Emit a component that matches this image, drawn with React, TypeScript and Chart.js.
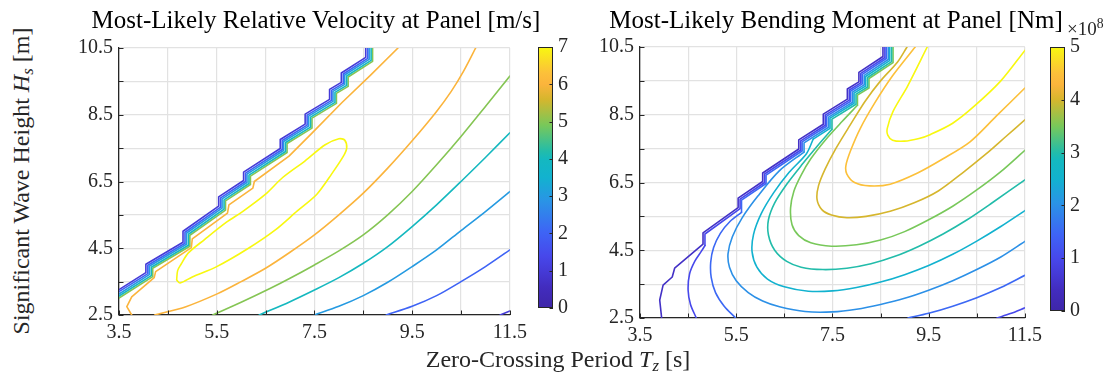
import React, { useEffect, useRef } from 'react';
import { Chart, registerables } from 'chart.js';

Chart.register(...registerables);

type Pt = [number, number];
type Line = { level: number; pts: Pt[]; smooth: boolean };

const FONT = "'Liberation Serif', 'Times New Roman', Times, serif";
const INK = '#262626';

// ---------- axes / ticks ----------
const TZ_TICKS = [3.5, 4.5, 5.5, 6.5, 7.5, 8.5, 9.5, 10.5, 11.5];
const TZ_LABELLED = [3.5, 5.5, 7.5, 9.5, 11.5];
const HS_TICKS = [2.5, 3.5, 4.5, 5.5, 6.5, 7.5, 8.5, 9.5, 10.5];
const HS_LABELLED = [2.5, 4.5, 6.5, 8.5, 10.5];
const VEL_CBAR_TICKS = [0, 1, 2, 3, 4, 5, 6, 7];
const MOM_CBAR_TICKS = [0, 1, 2, 3, 4, 5];
const VEL_CLIM: [number, number] = [0, 7];
const MOM_CLIM: [number, number] = [0, 5];

// parula-like colormap stops [t, r, g, b]
const PARULA_STOPS: [number, number, number, number][] = [
  [0.0, 62, 38, 168], [0.08, 66, 44, 190], [0.14, 69, 58, 214], [0.2, 71, 72, 235],
  [0.29, 62, 100, 245], [0.41, 42, 148, 230], [0.5, 18, 178, 207], [0.57, 20, 184, 192],
  [0.6, 34, 188, 170], [0.7, 120, 200, 90], [0.8, 214, 182, 45], [0.857, 251, 180, 60],
  [0.9, 252, 192, 58], [1.0, 248, 248, 16],
];

// ---------- Relative velocity contours [m/s]  (Tz [s], Hs [m]) ----------
const VEL_1_LIMIT: Pt[] = [[3.5,3.26],[4.05,3.77],[4.05,4.02],[4.81,4.68],[4.81,5.01],[5.54,5.76],[5.54,6.04],[6.05,6.53],[6.05,6.78],[6.8,7.49],[6.8,7.76],[7.31,8.22],[7.31,8.52],[7.81,8.96],[7.81,9.26],[8.05,9.47],[8.05,9.75],[8.55,10.22],[8.55,10.5]];
const VEL_1_FIELD: Pt[] = [[11.3,2.5],[11.5,2.62]];
const VEL_2_LIMIT: Pt[] = [[3.5,3.2],[4.09,3.74],[4.09,3.99],[4.85,4.65],[4.85,4.98],[5.58,5.73],[5.58,6.01],[6.09,6.5],[6.09,6.75],[6.84,7.46],[6.84,7.73],[7.35,8.19],[7.35,8.49],[7.85,8.93],[7.85,9.23],[8.09,9.44],[8.09,9.72],[8.59,10.19],[8.59,10.5]];
const VEL_2_FIELD: Pt[] = [[8.97,2.5],[9.5,2.76],[10.0,3.08],[10.5,3.5],[11.0,3.95],[11.5,4.45]];
const VEL_3_LIMIT: Pt[] = [[3.5,3.13],[4.12,3.71],[4.12,3.96],[4.88,4.62],[4.88,4.95],[5.61,5.7],[5.61,5.98],[6.12,6.47],[6.12,6.72],[6.87,7.43],[6.87,7.7],[7.38,8.16],[7.38,8.46],[7.88,8.9],[7.88,9.2],[8.12,9.41],[8.12,9.69],[8.62,10.16],[8.62,10.5]];
const VEL_3_FIELD: Pt[] = [[7.5,2.5],[8.0,2.76],[8.5,3.08],[9.0,3.48],[9.5,3.95],[10.0,4.45],[10.5,5.03],[11.0,5.6],[11.5,6.2]];
const VEL_4_LIMIT: Pt[] = [[3.5,3.07],[4.16,3.68],[4.16,3.93],[4.92,4.59],[4.92,4.92],[5.65,5.67],[5.65,5.95],[6.16,6.44],[6.16,6.69],[6.91,7.4],[6.91,7.67],[7.42,8.13],[7.42,8.43],[7.92,8.87],[7.92,9.17],[8.16,9.38],[8.16,9.66],[8.66,10.13],[8.66,10.5]];
const VEL_4_FIELD: Pt[] = [[6.37,2.5],[7.0,2.9],[7.5,3.25],[8.0,3.62],[8.5,4.05],[9.0,4.55],[9.5,5.15],[10.0,5.8],[10.5,6.5],[11.0,7.22],[11.5,7.96]];
const VEL_5_LIMIT: Pt[] = [[3.5,3.01],[4.19,3.65],[4.19,3.9],[4.95,4.56],[4.95,4.89],[5.68,5.64],[5.68,5.92],[6.19,6.41],[6.19,6.66],[6.94,7.37],[6.94,7.64],[7.45,8.1],[7.45,8.4],[7.95,8.84],[7.95,9.14],[8.19,9.35],[8.19,9.63],[8.69,10.1],[8.69,10.5]];
const VEL_5_FIELD: Pt[] = [[5.42,2.5],[6.0,2.88],[6.6,3.3],[7.0,3.6],[7.5,4.0],[8.0,4.42],[8.5,4.9],[9.0,5.5],[9.5,6.2],[10.0,7.0],[10.5,7.85],[11.0,8.75],[11.5,9.66]];
const VEL_6_LIMIT: Pt[] = [[3.76,2.5],[3.66,2.75],[3.76,3.04],[4.22,3.62],[4.25,3.8],[4.98,4.52],[5.0,4.78],[5.72,5.55],[5.75,5.8],[6.24,6.3],[6.27,6.5],[6.98,7.26],[7.45,7.95],[8.06,8.86],[8.66,9.7],[9.21,10.5]];
const VEL_6_FIELD: Pt[] = [[4.23,2.5],[4.87,2.75],[5.52,3.14],[6.0,3.5],[6.5,3.9],[7.0,4.38],[7.5,4.9],[8.0,5.5],[8.5,6.15],[9.0,6.9],[9.5,7.72],[10.0,8.6],[10.3,9.2],[10.55,9.8],[10.8,10.5]];
const VEL_7_LOOP: Pt[] = [[4.68,3.55],[4.7,3.83],[4.77,4.02],[4.92,4.36],[5.25,4.76],[5.7,5.28],[6.05,5.62],[6.5,6.12],[6.85,6.62],[7.31,7.12],[7.72,7.6],[8.0,7.78],[8.12,7.74],[8.16,7.5],[8.09,7.25],[7.85,6.72],[7.55,6.12],[7.15,5.62],[6.7,5.05],[6.15,4.5],[5.5,3.95],[5.0,3.64],[4.75,3.46],[4.68,3.55]];

// ---------- Bending moment contours [x1e8 Nm] ----------
const MOM_05_LIMIT: Pt[] = [[3.95,2.5],[3.91,3.03],[3.98,3.47],[4.17,3.71],[4.22,3.97],[4.81,4.68],[4.81,5.01],[5.54,5.76],[5.54,6.04],[6.05,6.53],[6.05,6.78],[6.8,7.49],[6.8,7.76],[7.31,8.22],[7.31,8.52],[7.81,8.96],[7.81,9.26],[8.05,9.47],[8.05,9.75],[8.55,10.22],[8.55,10.5]];
const MOM_10_LOW: Pt[] = [[4.67,2.5],[4.55,2.9],[4.5,3.32],[4.53,3.8],[4.64,4.18],[4.78,4.48],[4.85,4.64]];
const MOM_10_LIMIT: Pt[] = [[4.85,4.64],[4.85,4.98],[5.58,5.73],[5.58,6.01],[6.09,6.5],[6.09,6.75],[6.84,7.46],[6.84,7.73],[7.35,8.19],[7.35,8.49],[7.85,8.93],[7.85,9.23],[8.09,9.44],[8.09,9.72],[8.59,10.19],[8.59,10.5]];
const MOM_10_FIELD: Pt[] = [[10.92,2.5],[11.2,2.63],[11.5,2.8]];
const MOM_15_LOW: Pt[] = [[5.49,2.5],[5.25,2.85],[5.07,3.25],[4.98,3.7],[4.97,4.15],[5.03,4.58],[5.17,5.0],[5.37,5.35],[5.61,5.62]];
const MOM_15_LIMIT: Pt[] = [[5.61,5.62],[5.61,5.98],[6.12,6.47],[6.12,6.72],[6.87,7.43],[6.87,7.7],[7.38,8.16],[7.38,8.46],[7.88,8.9],[7.88,9.2],[8.12,9.41],[8.12,9.69],[8.62,10.16],[8.62,10.5]];
const MOM_15_FIELD: Pt[] = [[9.07,2.5],[9.5,2.64],[10.0,2.85],[10.5,3.1],[11.0,3.4],[11.5,3.76]];
const MOM_20_LIMIT: Pt[] = [[8.66,10.5],[8.66,10.13],[8.16,9.66],[8.16,9.38],[7.92,9.17],[7.92,8.87],[7.42,8.43],[7.42,8.13],[6.91,7.67],[6.91,7.4]];
const MOM_20_FIELD: Pt[] = [[6.91,7.4],[6.4,6.85],[5.95,6.1],[5.62,5.45],[5.42,4.9],[5.33,4.4],[5.36,4.0],[5.5,3.6],[5.75,3.25],[6.05,3.0],[6.4,2.83],[6.93,2.69],[7.5,2.68],[8.0,2.76],[8.5,2.9],[9.0,3.08],[9.5,3.32],[10.0,3.6],[10.5,3.93],[11.0,4.3],[11.5,4.76]];
const MOM_25_LIMIT: Pt[] = [[8.69,10.5],[8.69,10.1],[8.19,9.63],[8.19,9.35],[7.95,9.14],[7.95,8.84],[7.45,8.4],[7.45,8.1],[7.1,7.78]];
const MOM_25_FIELD: Pt[] = [[7.1,7.78],[6.96,7.35],[6.6,6.8],[6.28,6.2],[6.02,5.58],[5.86,4.97],[5.83,4.45],[5.93,4.0],[6.15,3.65],[6.5,3.42],[7.0,3.29],[7.5,3.3],[8.0,3.4],[8.5,3.56],[9.0,3.78],[9.5,4.05],[10.0,4.38],[10.5,4.77],[11.0,5.2],[11.5,5.67]];
const MOM_30_LIMIT: Pt[] = [[8.73,10.5],[8.73,10.07],[8.23,9.6],[8.23,9.32],[7.99,9.11],[7.99,8.81],[7.49,8.37],[7.49,8.07]];
const MOM_30_FIELD: Pt[] = [[7.49,8.07],[7.2,7.6],[6.88,7.05],[6.55,6.45],[6.3,5.9],[6.17,5.4],[6.17,4.95],[6.3,4.5],[6.55,4.17],[6.85,4.0],[7.3,3.93],[7.8,3.97],[8.3,4.1],[8.8,4.32],[9.3,4.62],[9.8,4.98],[10.3,5.4],[10.8,5.88],[11.5,6.58]];
const MOM_35_LIMIT: Pt[] = [[8.76,10.5],[8.76,10.04],[8.26,9.57],[8.26,9.29],[8.02,9.08],[8.02,8.78]];
const MOM_35_FIELD: Pt[] = [[8.02,8.78],[7.7,8.3],[7.35,7.75],[7.05,7.2],[6.85,6.72],[6.7,6.25],[6.63,5.75],[6.66,5.25],[6.8,4.93],[7.05,4.72],[7.48,4.62],[8.0,4.66],[8.5,4.8],[9.0,5.05],[9.5,5.4],[10.0,5.8],[10.5,6.28],[11.0,6.82],[11.5,7.45]];
const MOM_40_FIELD: Pt[] = [[9.05,10.5],[8.85,10.05],[8.5,9.5],[8.18,8.9],[7.87,8.2],[7.57,7.5],[7.35,6.9],[7.21,6.4],[7.18,6.0],[7.28,5.7],[7.48,5.54],[7.8,5.46],[8.2,5.5],[8.7,5.65],[9.2,5.9],[9.7,6.25],[10.2,6.78],[10.7,7.35],[11.1,7.85],[11.5,8.35]];
const MOM_45_FIELD: Pt[] = [[9.22,10.5],[8.75,9.65],[8.38,8.85],[8.08,8.1],[7.88,7.45],[7.78,7.0],[7.8,6.75],[7.96,6.5],[8.27,6.4],[8.7,6.45],[9.27,6.78],[9.8,7.2],[10.36,7.7],[10.9,8.45],[11.5,9.29]];
const MOM_50_FIELD: Pt[] = [[9.47,10.5],[9.06,9.34],[8.76,8.6],[8.64,8.1],[8.65,7.9],[8.75,7.75],[8.99,7.72],[9.3,7.8],[9.54,7.92],[10.0,8.25],[10.43,8.73],[11.0,9.5],[11.5,10.4]];

const VEL_LINES: Line[] = [
  { level: 1, pts: VEL_1_LIMIT, smooth: false }, { level: 1, pts: VEL_1_FIELD, smooth: true },
  { level: 2, pts: VEL_2_LIMIT, smooth: false }, { level: 2, pts: VEL_2_FIELD, smooth: true },
  { level: 3, pts: VEL_3_LIMIT, smooth: false }, { level: 3, pts: VEL_3_FIELD, smooth: true },
  { level: 4, pts: VEL_4_LIMIT, smooth: false }, { level: 4, pts: VEL_4_FIELD, smooth: true },
  { level: 5, pts: VEL_5_LIMIT, smooth: false }, { level: 5, pts: VEL_5_FIELD, smooth: true },
  { level: 6, pts: VEL_6_LIMIT, smooth: false }, { level: 6, pts: VEL_6_FIELD, smooth: true },
  { level: 7, pts: VEL_7_LOOP, smooth: true },
];

const MOM_LINES: Line[] = [
  { level: 0.5, pts: MOM_05_LIMIT, smooth: false },
  { level: 1.0, pts: MOM_10_LOW, smooth: true }, { level: 1.0, pts: MOM_10_LIMIT, smooth: false }, { level: 1.0, pts: MOM_10_FIELD, smooth: true },
  { level: 1.5, pts: MOM_15_LOW, smooth: true }, { level: 1.5, pts: MOM_15_LIMIT, smooth: false }, { level: 1.5, pts: MOM_15_FIELD, smooth: true },
  { level: 2.0, pts: MOM_20_LIMIT, smooth: false }, { level: 2.0, pts: MOM_20_FIELD, smooth: true },
  { level: 2.5, pts: MOM_25_LIMIT, smooth: false }, { level: 2.5, pts: MOM_25_FIELD, smooth: true },
  { level: 3.0, pts: MOM_30_LIMIT, smooth: false }, { level: 3.0, pts: MOM_30_FIELD, smooth: true },
  { level: 3.5, pts: MOM_35_LIMIT, smooth: false }, { level: 3.5, pts: MOM_35_FIELD, smooth: true },
  { level: 4.0, pts: MOM_40_FIELD, smooth: true },
  { level: 4.5, pts: MOM_45_FIELD, smooth: true },
  { level: 5.0, pts: MOM_50_FIELD, smooth: true },
];

function parula(t: number): string {
  const s = PARULA_STOPS;
  const u = Math.max(0, Math.min(1, t));
  for (let i = 1; i < s.length; i++) {
    if (u <= s[i][0]) {
      const a = s[i - 1], b = s[i];
      const f = (u - a[0]) / (b[0] - a[0]);
      const c = [1, 2, 3].map((k) => Math.round(a[k] + (b[k] - a[k]) * f));
      return `rgb(${c[0]},${c[1]},${c[2]})`;
    }
  }
  const l = s[s.length - 1];
  return `rgb(${l[1]},${l[2]},${l[3]})`;
}

const innerTicks = {
  id: 'innerTicks',
  afterDatasetsDraw(chart: any) {
    const { ctx, chartArea: a, scales } = chart;
    ctx.save();
    ctx.strokeStyle = INK;
    ctx.lineWidth = 1;
    ctx.beginPath();
    for (const v of TZ_TICKS) {
      const x = Math.round(scales.x.getPixelForValue(v)) + 0.5;
      ctx.moveTo(x, a.bottom);
      ctx.lineTo(x, a.bottom - 4.5);
    }
    for (const v of HS_TICKS) {
      const y = Math.round(scales.y.getPixelForValue(v)) + 0.5;
      ctx.moveTo(a.left, y);
      ctx.lineTo(a.left + 4.5, y);
    }
    ctx.stroke();
    ctx.restore();
  },
};

function contourConfig(lines: Line[], clim: [number, number]): any {
  const axis = (ticks: number[], labelled: number[], min: number, max: number, isX: boolean) => ({
    type: 'linear',
    min,
    max,
    afterBuildTicks: (ax: any) => {
      ax.ticks = ticks.map((v) => ({ value: v }));
    },
    afterFit: (ax: any) => {
      if (isX) ax.height = 35;
      else ax.width = 69;
    },
    ticks: {
      autoSkip: false,
      maxRotation: 0,
      minRotation: 0,
      padding: isX ? 6 : 6,
      color: INK,
      font: { family: FONT, size: 20 },
      callback: (v: number) => (labelled.includes(v) ? String(v) : ''),
    },
    grid: { color: '#e2e2e2', lineWidth: 1.2, drawTicks: false },
    border: { display: true, color: INK, width: 1.3 },
  });
  return {
    type: 'scatter',
    data: {
      datasets: lines.map((l) => ({
        data: l.pts.map(([x, y]) => ({ x, y })),
        showLine: true,
        pointRadius: 0,
        pointHoverRadius: 0,
        borderColor: parula((l.level - clim[0]) / (clim[1] - clim[0])),
        borderWidth: 1.6,
        borderJoinStyle: 'round',
        borderCapStyle: 'round',
        tension: l.smooth ? 0.3 : 0,
        fill: false,
      })),
    },
    options: {
      animation: false,
      responsive: false,
      events: [],
      layout: { padding: { top: 14, right: 20, left: 0, bottom: 0 } },
      plugins: { legend: { display: false }, tooltip: { enabled: false }, title: { display: false } },
      scales: {
        x: axis(TZ_TICKS, TZ_LABELLED, 3.5, 11.5, true),
        y: axis(HS_TICKS, HS_LABELLED, 2.5, 10.5, false),
      },
    },
    plugins: [innerTicks],
  };
}

const colorbarFill = {
  id: 'colorbarFill',
  beforeDatasetsDraw(chart: any) {
    const { ctx, chartArea: a, scales } = chart;
    const g = ctx.createLinearGradient(0, a.bottom, 0, a.top);
    PARULA_STOPS.forEach(([t, r, gg, b]) => g.addColorStop(t, `rgb(${r},${gg},${b})`));
    ctx.save();
    ctx.fillStyle = g;
    ctx.fillRect(a.left, a.top, a.right - a.left, a.bottom - a.top);
    ctx.strokeStyle = INK;
    ctx.lineWidth = 1;
    ctx.strokeRect(a.left + 0.5, a.top + 0.5, a.right - a.left - 1, a.bottom - a.top - 1);
    ctx.beginPath();
    for (const t of scales.y.ticks) {
      const y = Math.round(scales.y.getPixelForValue(t.value)) + 0.5;
      ctx.moveTo(a.right, y);
      ctx.lineTo(a.right - 3.5, y);
    }
    ctx.stroke();
    ctx.restore();
  },
};

function colorbarConfig(ticks: number[], clim: [number, number]): any {
  return {
    type: 'scatter',
    data: { datasets: [] },
    options: {
      animation: false,
      responsive: false,
      events: [],
      layout: { padding: { top: 14, right: 0, left: 8, bottom: 10 } },
      plugins: { legend: { display: false }, tooltip: { enabled: false } },
      scales: {
        x: { display: false, min: 0, max: 1 },
        y: {
          position: 'right',
          min: clim[0],
          max: clim[1],
          afterBuildTicks: (ax: any) => {
            ax.ticks = ticks.map((v) => ({ value: v }));
          },
          afterFit: (ax: any) => {
            ax.width = 37;
          },
          ticks: { padding: 5, color: INK, font: { family: FONT, size: 20 }, callback: (v: number) => String(v) },
          grid: { display: false, drawTicks: false },
          border: { display: false },
        },
      },
    },
    plugins: [colorbarFill],
  };
}

function ChartBox(props: { left: number; top: number; width: number; height: number; make: () => any }) {
  const ref = useRef<HTMLCanvasElement>(null);
  useEffect(() => {
    const chart = new Chart(ref.current as HTMLCanvasElement, props.make());
    return () => chart.destroy();
  }, []);
  return (
    <div style={{ position: 'absolute', left: props.left, top: props.top, width: props.width, height: props.height }}>
      <canvas ref={ref} width={props.width} height={props.height} style={{ display: 'block' }} />
    </div>
  );
}

const textBase: React.CSSProperties = {
  position: 'absolute',
  whiteSpace: 'nowrap',
  fontFamily: FONT,
  color: '#000',
};

export default function App() {
  return (
    <div style={{ position: 'absolute', left: 0, top: 0, width: 1109, height: 374, background: '#fff', overflow: 'hidden' }}>
      <ChartBox left={50} top={30} width={483} height={320} make={() => contourConfig(VEL_LINES, VEL_CLIM)} />
      <ChartBox left={530} top={30} width={60} height={295} make={() => colorbarConfig(VEL_CBAR_TICKS, VEL_CLIM)} />
      <ChartBox left={571} top={29} width={477} height={324} make={() => contourConfig(MOM_LINES, MOM_CLIM)} />
      <ChartBox left={1042} top={30} width={60} height={298} make={() => colorbarConfig(MOM_CBAR_TICKS, MOM_CLIM)} />

      <div style={{ ...textBase, left: 316, top: 7, transform: 'translateX(-50%)', fontSize: 25, lineHeight: '25px' }}>
        Most-Likely Relative Velocity at Panel [m/s]
      </div>
      <div style={{ ...textBase, left: 836, top: 7, transform: 'translateX(-50%)', fontSize: 25, lineHeight: '25px' }}>
        Most-Likely Bending Moment at Panel [Nm]
      </div>
      <div style={{ ...textBase, left: 1067, top: 19, fontSize: 19, lineHeight: '19px', color: INK }}>
        ×10<sup style={{ fontSize: '0.72em', verticalAlign: '0.5em', lineHeight: 0 }}>8</sup>
      </div>
      <div style={{ ...textBase, left: 558, top: 347, transform: 'translateX(-50%)', fontSize: 24, lineHeight: '24px', color: INK }}>
        Zero-Crossing Period <i>T<sub style={{ fontSize: '0.7em', verticalAlign: '-0.25em', lineHeight: 0 }}>z</sub></i> [s]
      </div>
      <div
        style={{
          ...textBase,
          left: 21,
          top: 181,
          transform: 'translate(-50%, -50%) rotate(-90deg)',
          fontSize: 24,
          lineHeight: '24px',
          color: INK,
        }}
      >
        Significant Wave Height <i>H<sub style={{ fontSize: '0.7em', verticalAlign: '-0.25em', lineHeight: 0 }}>s</sub></i> [m]
      </div>
    </div>
  );
}
